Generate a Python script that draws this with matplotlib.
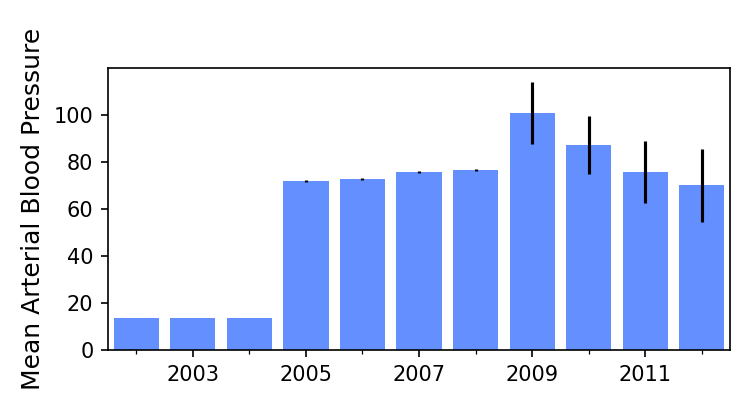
import matplotlib
matplotlib.use("Agg")
import matplotlib.pyplot as plt
from matplotlib.ticker import MultipleLocator

# data
years = [2002, 2003, 2004, 2005, 2006, 2007, 2008, 2009, 2010, 2011, 2012]
mabp = [13.8, 13.8, 13.8, 71.8, 72.7, 75.7, 76.5, 100.9, 87.2, 75.7, 70.1]
err = [0, 0, 0, 0.5, 0.5, 0.4, 0.5, 13.3, 12.4, 13.0, 15.5]

fig = plt.figure(figsize=(748 / 150, 419 / 150), dpi=150)
ax = fig.add_axes([0.1444, 0.1647, 0.8316, 0.6733])

ax.bar(years, mabp, width=0.8, color="#648FFF")
ax.errorbar(years[3:], mabp[3:], yerr=err[3:], fmt="none", ecolor="black",
            elinewidth=1.5, capsize=0)

ax.set_xlim(2001.5, 2012.5)
ax.set_ylim(0, 120)
ax.set_yticks([0, 20, 40, 60, 80, 100])
ax.set_xticks([2003, 2005, 2007, 2009, 2011])
ax.xaxis.set_minor_locator(MultipleLocator(1))
ax.set_ylabel("Mean Arterial Blood Pressure", fontsize=12)

fig.savefig("out.png", dpi=150)
